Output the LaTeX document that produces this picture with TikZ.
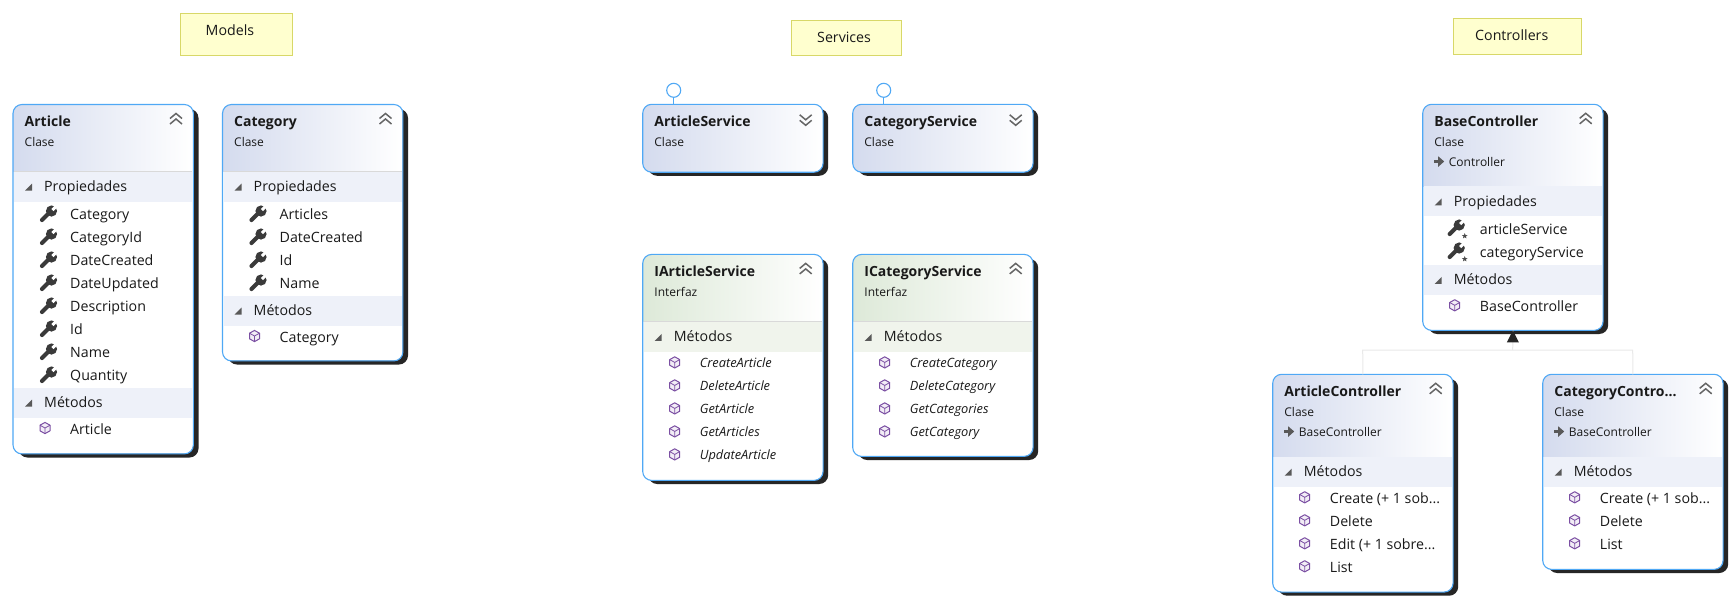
\documentclass[tikz,border=0pt]{standalone}
\usepackage{fontspec}
\setmainfont{Open Sans}
\usetikzlibrary{shapes.geometric}
\definecolor{boxborder}{HTML}{4FA8F5}
\definecolor{boxshadow}{HTML}{262626}
\definecolor{clshead}{HTML}{D4DBEE}
\definecolor{clsband}{HTML}{EEF1F9}
\definecolor{ifchead}{HTML}{DDE9D8}
\definecolor{ifcband}{HTML}{F0F4EC}
\definecolor{noteedge}{HTML}{D8D868}
\definecolor{notefill}{HTML}{FFFFCF}
\definecolor{iconc}{HTML}{3A3A3A}
\definecolor{cubec}{HTML}{7B4FA3}
\definecolor{linkc}{HTML}{E9E9E9}
\newcommand{\bodyfont}{\fontsize{14.2pt}{16pt}\selectfont}
\newcommand{\smallfont}{\fontsize{12pt}{14pt}\selectfont}
\newcommand{\italfont}{\fontsize{12.8pt}{14pt}\selectfont\itshape}
\newcommand{\titlefont}{\fontsize{14pt}{16pt}\selectfont\bfseries}
\tikzset{
  x=1pt,y=-1pt,
  classbg/.style={fill=white,rounded corners=9pt,inner sep=0pt,minimum width=180pt,anchor=north west},
  borderline/.style={draw=boxborder,line width=1.1pt,rounded corners=9pt},
  txt/.style={anchor=base west,inner sep=0pt,text=black!90},
  notebox/.style={draw=noteedge,fill=notefill,line width=1.2pt},
  lolli/.style={circle,draw=boxborder,fill=white,line width=1.1pt,minimum size=14pt,inner sep=0pt},
  linkline/.style={draw=linkc,line width=1pt},
  pics/wrench/.style={code={
    \draw[iconc,line width=4.2pt,line cap=round] (-6,6) -- (2,-2);
    \fill[iconc] (3.5,-3) circle (5.6);
    \draw[white,line width=3pt] (4.5,-4) -- (11,-10.5);
  }},
  pics/cube/.style={code={
    \fill[cubec!10] (90:6) -- (30:6) -- (-30:6) -- (-90:6) -- (-150:6) -- (150:6) -- cycle;
    \draw[cubec,line width=1pt,line join=round] (0,-5.6) -- (5,-2.8) -- (5,2.8) -- (0,5.6) -- (-5,2.8) -- (-5,-2.8) -- cycle;
    \draw[cubec,line width=.8pt] (-5,-2.8) -- (0,0) -- (5,-2.8) (0,0) -- (0,5.6);
  }},
  pics/chevup/.style={code={
    \draw[black!60,line width=1.5pt] (-6,-1) -- (0,-6) -- (6,-1) (-6,4.5) -- (0,-.5) -- (6,4.5);
  }},
  pics/chevdown/.style={code={
    \draw[black!60,line width=1.5pt] (-6,-4.5) -- (0,.5) -- (6,-4.5) (-6,1) -- (0,6) -- (6,1);
  }},
}
% id, left, top, height, header height, head colour
\newcommand{\cbox}[6]{%
  \def\bx{#2}\def\by{#3}\def\bh{#4}\def\bw{180}%
  \fill[boxshadow,rounded corners=9pt] (#2+5.5,#3+4.5) rectangle (#2+185.5,#3+#4+4);
  \node[classbg,minimum height=#4pt] (#1) at (#2,#3) {};
  \begin{scope}
    \clip[rounded corners=9pt] (#2,#3) rectangle (#2+180,#3+#4);
    \shade[left color=#6,right color=white] (#2,#3) rectangle (#2+180,#3+#5);
  \end{scope}
  \draw[borderline] (#1.north west) rectangle (#1.south east);
}
\newcommand{\ctitle}[2]{%
  \node[txt,font=\titlefont] at (\bx+11.5,\by+22) {#1};
  \node[txt,font=\smallfont] at (\bx+11.5,\by+42) {#2};
}
\newcommand{\cparent}[1]{%
  \fill[black!65] (\bx+11,\by+56) rectangle (\bx+18,\by+58.5);
  \fill[black!65] (\bx+15.5,\by+52) -- (\bx+21.5,\by+57.2) -- (\bx+15.5,\by+62.5) -- cycle;
  \node[txt,font=\smallfont] at (\bx+26,\by+62) {#1};
}
% band top offset, label, colour
\newcommand{\cband}[3]{%
  \fill[#3] (\bx+1,\by+#1) rectangle (\bx+179,\by+#1+30);
  \fill[black!65] (\bx+19,\by+#1+19) -- (\bx+19,\by+#1+12) -- (\bx+12,\by+#1+19) -- cycle;
  \node[txt,font=\bodyfont] at (\bx+31,\by+#1+20) {#2};
}
\newcommand{\csep}[2]{\draw[#2,line width=1pt] (\bx+1,\by+#1) -- (\bx+179,\by+#1);}
\newcommand{\wrow}[2]{%
  \pic at (\bx+35,\by+#1) {wrench};
  \node[txt,font=\bodyfont] at (\bx+57,\by+#1+5) {#2};
}
\newcommand{\srow}[2]{%
  \begin{scope}[shift={(\bx+33,\by+#1-1)},scale=.82]
    \pic {wrench};
  \end{scope}
  \node[star,star points=5,star point ratio=2.4,fill=black!70,inner sep=0pt,minimum size=6pt] at (\bx+42,\by+#1+7) {};
  \node[txt,font=\bodyfont] at (\bx+57,\by+#1+5) {#2};
}
\newcommand{\mrow}[2]{%
  \pic at (\bx+32,\by+#1-1) {cube};
  \node[txt,font=\bodyfont] at (\bx+57,\by+#1+5) {#2};
}
\newcommand{\irow}[2]{%
  \pic at (\bx+32,\by+#1-1) {cube};
  \node[txt,font=\italfont] at (\bx+57,\by+#1+4.5) {#2};
}
\newcommand{\chev}[1]{\pic at (\bx+163,\by+15) {#1};}
\begin{document}
\begin{tikzpicture}
\useasboundingbox (0,0) rectangle (1734,603);
\fill[white] (0,0) rectangle (1734,603);

% notes
\node[notebox,minimum width=112pt,minimum height=42pt,inner sep=0pt,anchor=north west] (models) at (179.5,12.5) {};
\node[txt,font=\bodyfont] (modelstxt) at (205.5,35.5) {Models};
\node[notebox,minimum width=110pt,minimum height=35pt,inner sep=0pt,anchor=north west] (services) at (791,19.5) {};
\node[txt,font=\bodyfont] (servicestxt) at (817,42.5) {Services};
\node[notebox,minimum width=128.5pt,minimum height=36pt,inner sep=0pt,anchor=north west] (controllers) at (1452.5,17.5) {};
\node[txt,font=\bodyfont] (controllerstxt) at (1475,40.5) {Controllers};

% Article
\cbox{article}{13}{104.5}{349}{66.5}{clshead}
\ctitle{Article}{Clase}\chev{chevup}
\csep{66.5}{black!15}
\cband{67}{Propiedades}{clsband}
\wrow{109.5}{Category}\wrow{132.5}{CategoryId}\wrow{155.5}{DateCreated}\wrow{178.5}{DateUpdated}
\wrow{201.5}{Description}\wrow{224.5}{Id}\wrow{247.5}{Name}\wrow{270.5}{Quantity}
\cband{283}{Métodos}{clsband}
\mrow{324.5}{Article}

% Category
\cbox{category}{222.5}{104.5}{256}{66.5}{clshead}
\ctitle{Category}{Clase}\chev{chevup}
\csep{66.5}{black!15}
\cband{67}{Propiedades}{clsband}
\wrow{109.5}{Articles}\wrow{132.5}{DateCreated}\wrow{155.5}{Id}\wrow{178.5}{Name}
\cband{191}{Métodos}{clsband}
\mrow{232.5}{Category}

% Services
\cbox{artsvc}{642.7}{104.3}{67.5}{67.5}{clshead}
\ctitle{ArticleService}{Clase}\chev{chevdown}
\node[lolli] (lolA) at (673.7,90.3) {};
\draw[boxborder,line width=1.1pt] (lolA.south) -- (lolA.south |- artsvc.north);

\cbox{catsvc}{852.7}{104.3}{67.5}{67.5}{clshead}
\ctitle{CategoryService}{Clase}\chev{chevdown}
\node[lolli] (lolC) at (883.7,90.3) {};
\draw[boxborder,line width=1.1pt] (lolC.south) -- (lolC.south |- catsvc.north);

\cbox{iartsvc}{642.7}{254.4}{225.6}{67}{ifchead}
\ctitle{IArticleService}{Interfaz}\chev{chevup}
\csep{67}{black!15}
\cband{67.5}{Métodos}{ifcband}
\irow{109}{CreateArticle}\irow{132}{DeleteArticle}\irow{155}{GetArticle}\irow{178}{GetArticles}\irow{201}{UpdateArticle}

\cbox{icatsvc}{852.7}{254.4}{201.6}{67}{ifchead}
\ctitle{ICategoryService}{Interfaz}\chev{chevup}
\csep{67}{black!15}
\cband{67.5}{Métodos}{ifcband}
\irow{109}{CreateCategory}\irow{132}{DeleteCategory}\irow{155}{GetCategories}\irow{178}{GetCategory}

% Controllers
\coordinate (busL) at (1362.7,350);
\coordinate (busR) at (1632.7,350);
\coordinate (busT) at (1512.7,350);

\cbox{basectl}{1422.7}{104.3}{225.7}{81.7}{clshead}
\ctitle{BaseController}{Clase}\cparent{Controller}\chev{chevup}
\cband{82}{Propiedades}{clsband}
\srow{124.7}{articleService}\srow{147.7}{categoryService}
\cband{160.5}{Métodos}{clsband}
\mrow{202}{BaseController}

\cbox{artctl}{1272.7}{374.3}{217.4}{82}{clshead}
\ctitle{ArticleController}{Clase}\cparent{BaseController}\chev{chevup}
\cband{82.4}{Métodos}{clsband}
\mrow{124}{Create (+ 1 sob...}\mrow{147}{Delete}\mrow{170}{Edit (+ 1 sobre...}\mrow{193}{List}

\cbox{catctl}{1542.7}{374.3}{194.7}{82}{clshead}
\ctitle{CategoryContro...}{Clase}\cparent{BaseController}\chev{chevup}
\cband{82.4}{Métodos}{clsband}
\mrow{124}{Create (+ 1 sob...}\mrow{147}{Delete}\mrow{170}{List}

% inheritance
\draw[linkline] (artctl.north) -- (busL) -- (busR) -- (catctl.north);
\draw[linkline] (busT) -- (basectl.south);
\fill[black!85] (basectl.south) -- ++(-6,12) -- ++(12,0) -- cycle;
\end{tikzpicture}
\end{document}
